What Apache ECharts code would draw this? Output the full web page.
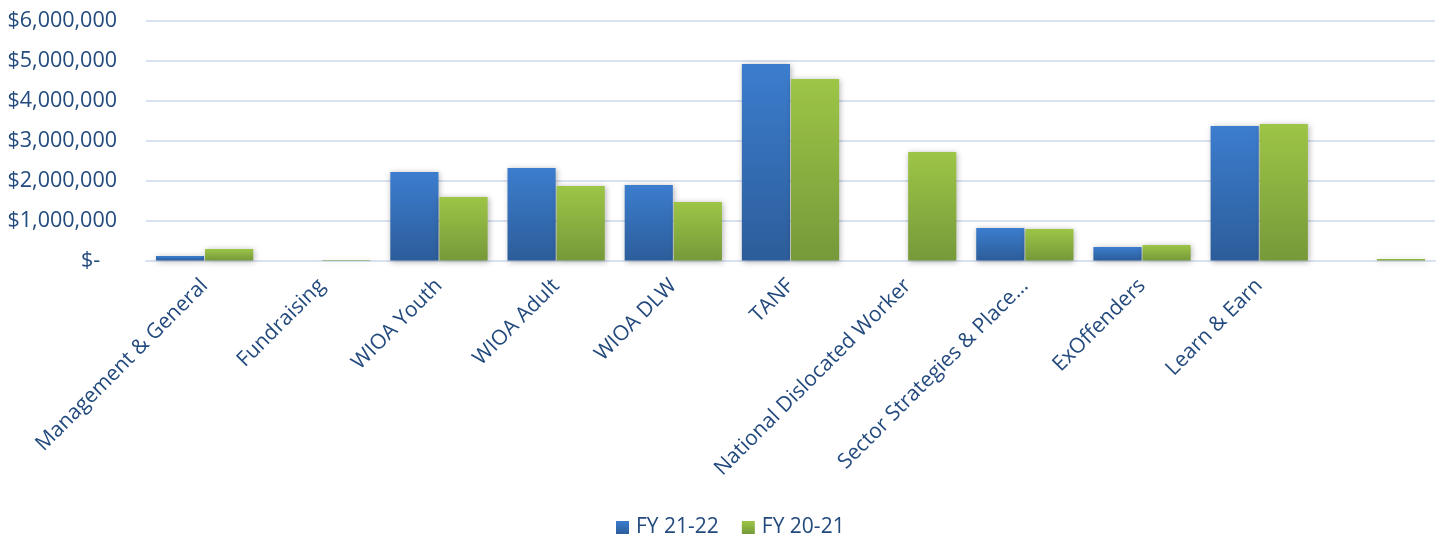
<!DOCTYPE html>
<html>
<head>
<meta charset="utf-8">
<script src="https://cdn.jsdelivr.net/npm/echarts@6/dist/echarts.min.js"></script>
<style>html,body{margin:0;padding:0;background:#fff;}#c{width:1440px;height:537px;}</style>
</head>
<body>
<div id="c"></div>
<script>
const categories = ["Management & General","Fundraising","WIOA Youth","WIOA Adult","WIOA DLW","TANF","National Dislocated Worker","Sector Strategies & Place...","ExOffenders","Learn & Earn",""];
const fy2122 = [110000, 0, 2210000, 2310000, 1890000, 4910000, 0, 810000, 340000, 3360000, 0];
const fy2021 = [290000, 15000, 1590000, 1860000, 1460000, 4540000, 2710000, 790000, 390000, 3410000, 40000];
const seriesNames = ["FY 21-22", "FY 20-21"];
const yTicks = [0, 1000000, 2000000, 3000000, 4000000, 5000000, 6000000];

const txt = '#234a7d';
const font = 'Open Sans';
function grad(top, bottom){
  return new echarts.graphic.LinearGradient(0,0,0,1,[{offset:0,color:top},{offset:1,color:bottom}]);
}
const chart = echarts.init(document.getElementById('c'));
chart.setOption({
  animation:false,
  grid:{left:146,right:5,top:20.5,bottom:276.5,containLabel:false},
  legend:{
    bottom:-1,left:616,padding:0,itemWidth:13,itemHeight:13,itemGap:23,icon:'rect',
    textStyle:{color:txt,fontFamily:font,fontSize:21,padding:[0,0,0,2]},
    data:[{name:seriesNames[0],itemStyle:{color:grad('#3c7dce','#2c5d9a')}},{name:seriesNames[1],itemStyle:{color:grad('#9dc546','#76993a')}}]
  },
  xAxis:{
    type:'category',data:categories,
    axisLine:{show:true,lineStyle:{color:'#d9e2f0',width:2}},
    axisTick:{show:false},
    axisLabel:{rotate:45,interval:0,color:txt,fontFamily:font,fontSize:21,margin:22}
  },
  yAxis:{
    type:'value',min:yTicks[0],max:yTicks[yTicks.length-1],interval:1000000,
    axisLine:{show:false},axisTick:{show:false},
    splitLine:{lineStyle:{color:'#d9e2f0',width:2}},
    axisLabel:{color:txt,fontFamily:font,fontSize:21.5,margin:29,
      formatter:v=> v===0 ? '$-   ' : '$'+v.toLocaleString('en-US')}
  },
  series:[
    {name:seriesNames[0],type:'bar',data:fy2122,barGap:'2%',barCategoryGap:'17%',
     itemStyle:{color:grad('#3c7dce','#2c5d9a'),shadowColor:'rgba(0,0,0,0.3)',shadowBlur:6,shadowOffsetX:1,shadowOffsetY:1}},
    {name:seriesNames[1],type:'bar',data:fy2021,
     itemStyle:{color:grad('#9dc546','#76993a'),shadowColor:'rgba(0,0,0,0.3)',shadowBlur:6,shadowOffsetX:1,shadowOffsetY:1}}
  ]
});
</script>
</body>
</html>
